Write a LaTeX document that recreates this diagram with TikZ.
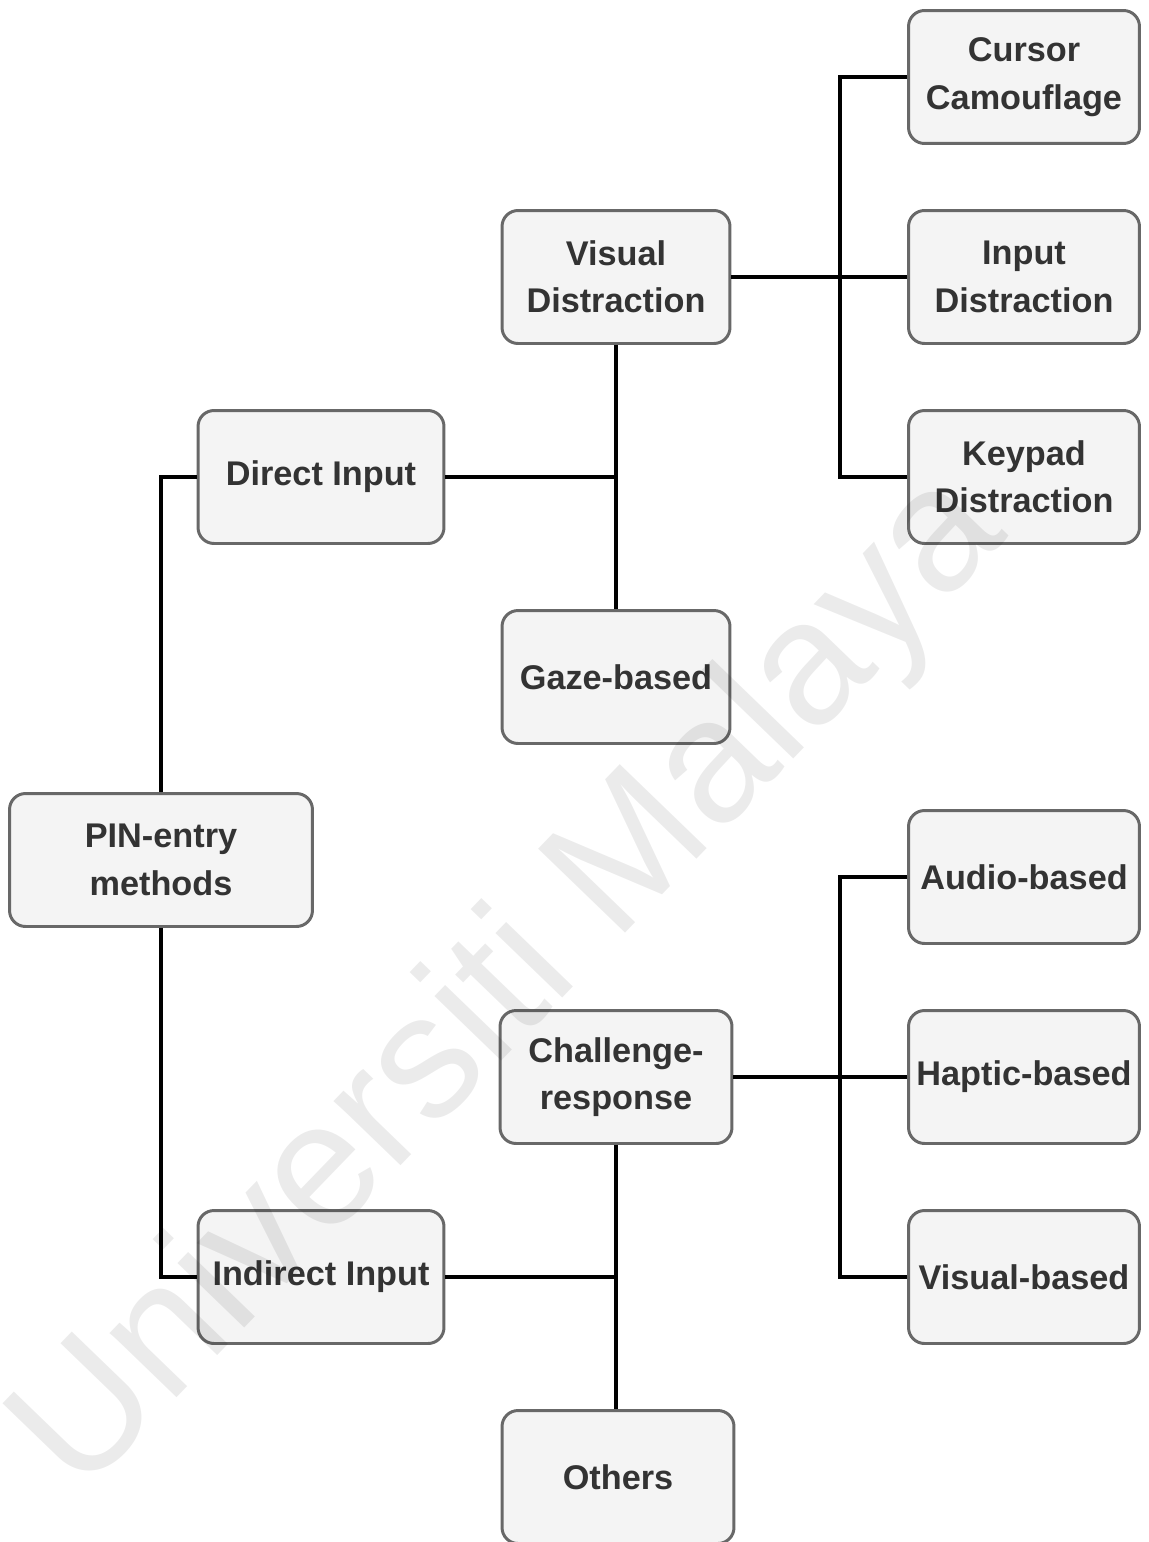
\documentclass[tikz,border=0pt]{standalone}
\usepackage{fontspec}
\setmainfont{Liberation Sans}
\usepackage{xcolor}
\usepackage{tikz}
\usetikzlibrary{positioning, calc}
\definecolor{boxfill}{HTML}{F4F4F4}
\definecolor{boxline}{HTML}{686868}
\definecolor{boxtext}{HTML}{333333}
\tikzset{
  %% Category box
  cbox/.style={
    rectangle, rounded corners=0.32cm,
    draw=boxline, fill=boxfill, text=boxtext,
    text centered, align=center,
    font=\fontsize{19.5}{27}\selectfont\bfseries,
    minimum width=#1, minimum height=2.66cm,
    inner sep=2pt, line width=1.7pt
  },
  cbox/.default=4.62cm,
  %% Tree connector
  link/.style={draw=black, line width=2pt},
}
\begin{document}
\begin{tikzpicture}[x=0.02cm, y=-0.02cm]
  \useasboundingbox (0,0) rectangle (1149,1542);

  %% ---- root ----
  \node[cbox=6.06cm] (pin) at (161,860) {PIN-entry\\methods};

  %% ---- level 1 ----
  \node[cbox=4.92cm] (direct)   at (321,477)  {Direct Input};
  \node[cbox=4.92cm] (indirect) at (321,1277) {Indirect Input};

  %% ---- level 2 ----
  \node[cbox=4.56cm] (visual) at (616,277)  {Visual\\Distraction};
  \node[cbox=4.56cm] (gaze)   at (616,677)  {Gaze-based};
  \node[cbox=4.64cm] (chal)   at (616,1077) {Challenge-\\response};
  \node[cbox=4.64cm] (others) at (618,1477) {Others};

  %% ---- level 3 ----
  \node[cbox] (cursor) at (1024,77)   {Cursor\\Camouflage};
  \node[cbox] (input)  at (1024,277)  {Input\\Distraction};
  \node[cbox] (keypad) at (1024,477)  {Keypad\\Distraction};
  \node[cbox] (audio)  at (1024,877)  {Audio-based};
  \node[cbox] (haptic) at (1024,1077) {Haptic-based};
  \node[cbox] (visb)   at (1024,1277) {Visual-based};

  %% root branches
  \draw[link] (pin.north) |- (direct.west);
  \draw[link] (pin.south) |- (indirect.west);

  %% direct input branches
  \coordinate (dj) at (gaze.north |- direct.east);
  \draw[link] (visual.south) -- (gaze.north);
  \draw[link] (direct.east) -- (dj);

  %% indirect input branches
  \coordinate (ij) at (chal.south |- indirect.east);
  \draw[link] (chal.south) -- (chal.south |- others.north);
  \draw[link] (indirect.east) -- (ij);

  %% visual distraction branches
  \coordinate (vj) at (840,277);
  \draw[link] (visual.east) -- (input.west);
  \draw[link] (cursor.west) -| (vj) |- (keypad.west);

  %% challenge-response branches
  \coordinate (cj) at (840,1077);
  \draw[link] (chal.east) -- (haptic.west);
  \draw[link] (audio.west) -| (cj) |- (visb.west);

  %% watermark
  \node[rotate=46, text=black, text opacity=0.08,
        font=\fontsize{100}{106}\selectfont]
       (wm) at (512,985) {Universiti Malaya};

\end{tikzpicture}
\end{document}
